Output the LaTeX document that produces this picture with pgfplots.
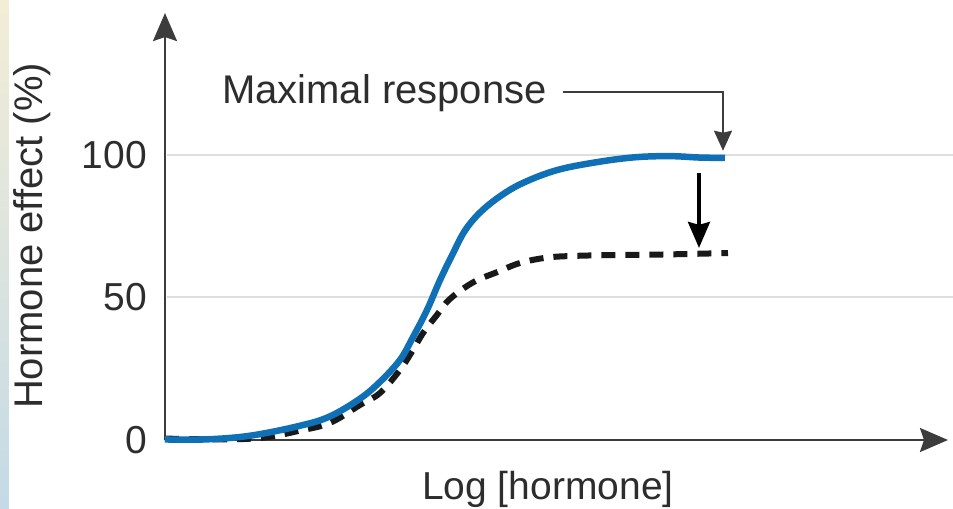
\documentclass[border=0pt]{standalone}
\usepackage{pgfplots}
\pgfplotsset{compat=1.18}
\usepackage{fontspec}
\setmainfont{Liberation Sans}
\usetikzlibrary{arrows.meta}
\definecolor{curveblue}{RGB}{16,112,182}
\definecolor{axisgray}{RGB}{60,60,60}
\definecolor{gridgray}{RGB}{222,222,222}
\definecolor{txtgray}{RGB}{45,45,45}
\definecolor{stripTop}{RGB}{243,237,214}
\definecolor{stripBot}{RGB}{196,218,230}
\begin{document}
\begin{tikzpicture}
\useasboundingbox (-165bp,-69bp) rectangle (788bp,440bp);
\fill[white] (-165bp,-69bp) rectangle (788bp,440bp);
\shade[top color=stripTop, bottom color=stripBot] (-165bp,-69bp) rectangle (-156bp,440bp);
\begin{axis}[
  anchor=origin, at={(0,0)},
  x=1bp, y=2.85bp,
  xmin=0, xmax=783, ymin=0, ymax=149.8,
  enlargelimits=false, clip=false,
  axis lines=left,
  axis line style={line width=2.2bp, color=axisgray, -{Stealth[length=28bp,width=24bp,inset=4bp]}},
  xtick=\empty,
  ytick={0,50,100},
  major tick length=0pt,
  /pgf/number format/assume math mode=true,
  tick label style={font=\fontsize{39bp}{45bp}\selectfont, text=txtgray},
  yticklabel style={anchor=east, inner sep=0pt, xshift=-18bp},
  xlabel={Log [hormone]},
  ylabel={Hormone effect (\%)},
  every axis x label/.style={at={(axis description cs:0.489,-0.1168)}, anchor=center, font=\fontsize{39bp}{45bp}\selectfont, text=txtgray},
  every axis y label/.style={at={(axis description cs:-0.1699,0.478)}, rotate=90, anchor=center, font=\fontsize{40bp}{45bp}\selectfont, text=txtgray},
]
% grid lines
\draw[gridgray, line width=2bp] (axis cs:2,100) -- (axis cs:790,100);
\draw[gridgray, line width=2bp] (axis cs:2,50) -- (axis cs:790,50);
% reduced response (dashed)
\addplot[black!90, line width=6bp, dash pattern=on 14bp off 10bp, smooth, tension=0.6] coordinates {
(0,0.5) (60,0.2) (100,0.9) (135,3.3) (165,6.0) (195,12.3) (215,16.5) (235,24.6)
(248,31.6) (258,37.5) (272,43.9) (285,49.5) (308,55.3) (332,58.9) (355,62.1)
(382,64.0) (410,64.6) (450,64.9) (500,65.1) (563,65.6)};
% full response (blue)
\addplot[curveblue, line width=6.5bp, smooth, tension=0.6, line cap=butt] coordinates {
(0,0.2) (40,0.2) (85,1.5) (135,5.0) (165,8.3) (195,14.5) (215,20.4) (235,28.1)
(248,36.1) (262,45.6) (275,56.1) (288,65.5) (300,73.5) (315,79.8) (335,85.5) (358,90.2)
(392,94.7) (432,97.5) (470,99.2) (505,99.6) (535,99.1) (560,99.0)};
% annotation
\node[anchor=base west, inner sep=0pt, font=\fontsize{40bp}{45bp}\selectfont, text=txtgray] at (axis cs:57,118.2) {Maximal response};
\draw[axisgray, line width=1.8bp, -{Stealth[length=20bp,width=18bp,inset=2bp]}] (axis cs:398,122.1) -- (axis cs:558,122.1) -- (axis cs:558,101.5);
\draw[black, line width=3.5bp, -{Stealth[length=26bp,width=22bp,inset=3bp]}] (axis cs:534,93.7) -- (axis cs:534,67.4);
\end{axis}
\end{tikzpicture}
\end{document}
